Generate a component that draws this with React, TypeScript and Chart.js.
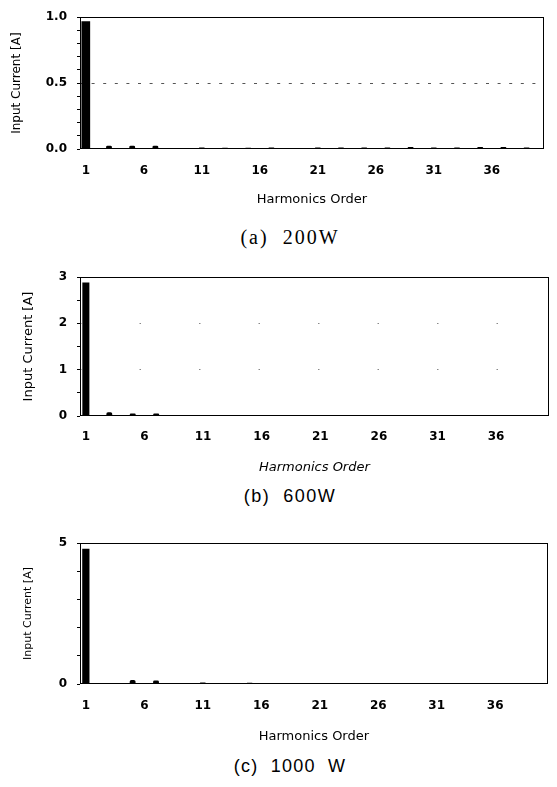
import React, { useEffect, useRef } from 'react';
import { Chart, registerables } from 'chart.js';

Chart.register(...registerables);

// Harmonic orders (categories)
const ORDERS = [
  1, 2, 3, 4, 5, 6, 7, 8, 9, 10,
  11, 12, 13, 14, 15, 16, 17, 18, 19, 20,
  21, 22, 23, 24, 25, 26, 27, 28, 29, 30,
  31, 32, 33, 34, 35, 36, 37, 38, 39, 40,
];
const X_TICK_LABELS = ['1', '6', '11', '16', '21', '26', '31', '36'];

// Input current [A] per harmonic order
const CURRENT_200W = [
  0.97, 0, 0.025, 0, 0.025, 0, 0.025, 0, 0.005, 0,
  0.012, 0, 0.01, 0, 0.01, 0, 0.012, 0, 0.008, 0,
  0.012, 0, 0.012, 0, 0.012, 0, 0.012, 0, 0.015, 0,
  0.012, 0, 0.012, 0, 0.015, 0, 0.015, 0, 0.012, 0,
];
const CURRENT_600W = [
  2.88, 0, 0.08, 0, 0.055, 0, 0.055, 0, 0.01, 0,
  0.015, 0, 0.02, 0, 0.015, 0, 0.015, 0, 0.01, 0,
  0.01, 0, 0.01, 0, 0.01, 0, 0.01, 0, 0.01, 0,
  0.01, 0, 0.01, 0, 0.01, 0, 0.01, 0, 0.01, 0,
];
const CURRENT_1000W = [
  4.8, 0, 0.03, 0, 0.14, 0, 0.12, 0, 0.01, 0,
  0.05, 0, 0.01, 0, 0.04, 0, 0.01, 0, 0.01, 0,
  0.01, 0, 0.01, 0, 0.01, 0, 0.01, 0, 0.01, 0,
  0.01, 0, 0.01, 0, 0.01, 0, 0.01, 0, 0.01, 0,
];

const Y_TICKS_200W = [0, 0.5, 1.0];
const Y_LABELS_200W = ['0.0', '0.5', '1.0'];
const Y_TICKS_600W = [0, 1, 2, 3];
const Y_LABELS_600W = ['0', '1', '2', '3'];
const Y_TICKS_1000W = [0, 5];
const Y_LABELS_1000W = ['0', '5'];

const Y_TITLE = 'Input Current [A]';
const X_TITLE = 'Harmonics Order';

const SANS = "'DejaVu Sans', sans-serif";

interface PanelCfg {
  top: number;
  height: number;
  padTop: number;
  padRight: number;
  values: number[];
  yMax: number;
  yStep: number;
  yTicks: number[];
  yLabels: string[];
  gridValues: number[];
  gridColor: string;
  gridDash: number[];
  fundPct: number;
  yTitleSize: number;
  yTitlePad: number;
  xTitleItalic: boolean;
  xTickPad: number;
  xTitlePadBottom: number;
}

const PANELS: PanelCfg[] = [
  {
    top: 0, height: 209, padTop: 13, padRight: 13,
    values: CURRENT_200W, yMax: 1, yStep: 0.1,
    yTicks: Y_TICKS_200W, yLabels: Y_LABELS_200W,
    gridValues: [0.5], gridColor: '#555', gridDash: [3, 8.6],
    fundPct: 0.75, yTitleSize: 12, yTitlePad: 10,
    xTitleItalic: false, xTickPad: 15, xTitlePadBottom: 2,
  },
  {
    top: 250, height: 226, padTop: 27, padRight: 1,
    values: CURRENT_600W, yMax: 3, yStep: 0.5,
    yTicks: Y_TICKS_600W, yLabels: Y_LABELS_600W,
    gridValues: [1, 2], gridColor: '#888', gridDash: [1.5, 58],
    fundPct: 0.6, yTitleSize: 13, yTitlePad: 21,
    xTitleItalic: true, xTickPad: 14, xTitlePadBottom: 1,
  },
  {
    top: 510, height: 234, padTop: 33, padRight: 1,
    values: CURRENT_1000W, yMax: 5, yStep: 1,
    yTicks: Y_TICKS_1000W, yLabels: Y_LABELS_1000W,
    gridValues: [], gridColor: 'rgba(0,0,0,0)', gridDash: [],
    fundPct: 0.62, yTitleSize: 11, yTitlePad: 22,
    xTitleItalic: false, xTickPad: 15, xTitlePadBottom: 0,
  },
];

const boxPlugin = {
  id: 'plotBox',
  afterDatasetsDraw(chart: any) {
    const { ctx, chartArea } = chart;
    const l = Math.round(chartArea.left);
    const t = Math.round(chartArea.top);
    const r = Math.round(chartArea.right);
    const b = Math.round(chartArea.bottom);
    ctx.save();
    ctx.strokeStyle = '#000';
    ctx.lineWidth = 1;
    ctx.strokeRect(l + 0.5, t + 0.5, r - l - 1, b - t - 1);
    ctx.restore();
  },
};

function Panel({ cfg }: { cfg: PanelCfg }) {
  const ref = useRef<HTMLCanvasElement>(null);
  useEffect(() => {
    if (!ref.current) return;
    const fund = cfg.values.map((v, i) => (i === 0 ? v : null));
    const harm = cfg.values.map((v, i) => (i === 0 ? null : v));
    const isMajor = (v: number, list: number[]) => list.findIndex((g) => Math.abs(g - v) < 1e-6);
    const chart = new Chart(ref.current, {
      type: 'bar',
      data: {
        labels: ORDERS.map(String),
        datasets: [
          {
            data: fund as any,
            backgroundColor: '#000',
            borderWidth: 0,
            barPercentage: cfg.fundPct,
            categoryPercentage: 1,
            grouped: false,
          } as any,
          {
            data: harm as any,
            backgroundColor: '#000',
            borderWidth: 0,
            barPercentage: 0.5,
            categoryPercentage: 1,
            grouped: false,
            borderRadius: 2,
          } as any,
        ],
      },
      options: {
        animation: false,
        responsive: false,
        maintainAspectRatio: false,
        layout: { padding: { left: 0, top: cfg.padTop, right: cfg.padRight, bottom: 0 } },
        plugins: { legend: { display: false }, tooltip: { enabled: false } },
        scales: {
          x: {
            grid: { display: false, drawTicks: false },
            border: { display: false },
            ticks: {
              autoSkip: false,
              maxRotation: 0,
              minRotation: 0,
              padding: cfg.xTickPad,
              color: '#000',
              font: { family: SANS, size: 12, weight: 'bold' },
              callback: (_v: any, i: number) => {
                const s = String(ORDERS[i]);
                return X_TICK_LABELS.includes(s) ? s : '';
              },
            },
            title: {
              display: true,
              text: X_TITLE,
              color: '#000',
              font: { family: SANS, size: 13, style: cfg.xTitleItalic ? 'italic' : 'normal' },
              padding: { top: 0, bottom: cfg.xTitlePadBottom },
            },
            afterFit: (s: any) => { s.height = 60; },
          } as any,
          y: {
            min: 0,
            max: cfg.yMax,
            grid: {
              color: (c: any) => (isMajor(c.tick?.value, cfg.gridValues) >= 0 ? cfg.gridColor : 'rgba(0,0,0,0)'),
              tickColor: '#000',
              tickLength: 3,
              tickBorderDash: [],
              lineWidth: 1,
            },
            border: { display: false, dash: cfg.gridDash },
            ticks: {
              stepSize: cfg.yStep,
              autoSkip: false,
              padding: 10,
              color: '#000',
              font: { family: SANS, size: 12, weight: 'bold' },
              callback: (v: any) => {
                const idx = isMajor(Number(v), cfg.yTicks);
                return idx >= 0 ? cfg.yLabels[idx] : '';
              },
            },
            title: {
              display: true,
              text: Y_TITLE,
              color: '#000',
              font: { family: SANS, size: cfg.yTitleSize },
              padding: { top: cfg.yTitlePad, bottom: 0 },
            },
            afterFit: (s: any) => { s.width = 80; },
          } as any,
        },
      },
      plugins: [boxPlugin],
    });
    return () => chart.destroy();
  }, [cfg]);
  return (
    <canvas
      ref={ref}
      width={557}
      height={cfg.height}
      style={{ position: 'absolute', left: 0, top: cfg.top, width: 557, height: cfg.height, display: 'block' }}
    />
  );
}

const CAPTIONS = [
  { text: '(a)  200W', top: 227, size: 20, family: "'Liberation Serif', 'DejaVu Serif', serif", spacing: 2 },
  { text: '(b)  600W', top: 487, size: 18, family: "'Liberation Sans', Arial, sans-serif", spacing: 1.5 },
  { text: '(c)  1000  W', top: 757, size: 18, family: "'Liberation Sans', Arial, sans-serif", spacing: 1.2 },
];

export default function App() {
  return (
    <div style={{ position: 'absolute', left: 0, top: 0, width: 557, height: 787, background: '#fff', overflow: 'hidden' }}>
      {PANELS.map((p, i) => (
        <Panel key={i} cfg={p} />
      ))}
      {CAPTIONS.map((c, i) => (
        <div
          key={'c' + i}
          style={{
            position: 'absolute',
            left: 190,
            width: 200,
            top: c.top,
            textAlign: 'center',
            fontFamily: c.family,
            fontSize: c.size,
            lineHeight: c.size + 'px',
            letterSpacing: c.spacing + 'px',
            whiteSpace: 'pre',
            color: '#000',
          }}
        >
          {c.text}
        </div>
      ))}
    </div>
  );
}
